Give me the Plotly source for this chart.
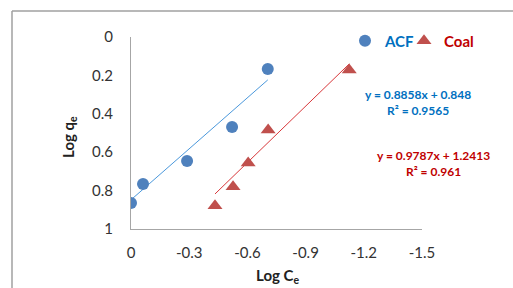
import plotly.graph_objects as go
import numpy as np

# Data
acf_x = [0.0, -0.062, -0.289, -0.521, -0.705]
acf_y = [0.865, 0.766, 0.646, 0.469, 0.167]
coal_x = [-0.433, -0.526, -0.604, -0.707, -1.125]
coal_y = [0.879, 0.780, 0.656, 0.484, 0.172]

acf_fit = (0.8858, 0.848, 0.9565)
coal_fit = (0.9787, 1.2413, 0.961)

x_ticks = [0, -0.3, -0.6, -0.9, -1.2, -1.5]
x_tick_labels = ["0", "-0.3", "-0.6", "-0.9", "-1.2", "-1.5"]
y_ticks = [0, 0.2, 0.4, 0.6, 0.8, 1]
y_tick_labels = ["0", "0.2", "0.4", "0.6", "0.8", "1"]

W, H = 513, 288
L, R, T, B = 131, 91, 37, 59
pw, ph = W - L - R, H - T - B

def px(x):
    return (x - L) / pw

def py(y):
    return 1 - (y - T) / ph

FONT = "Lato"
BLUE_M = "#4F81BD"
RED_M = "#C0504D"
BLUE_T = "#0070C0"
RED_T = "#C00000"

fig = go.Figure()

# trendlines
for xs, (m, c, _), col in [(acf_x, acf_fit, "#4A98DC"), (coal_x, coal_fit, "#D8373A")]:
    tx = np.array([max(xs), min(xs)])
    fig.add_trace(go.Scatter(x=tx, y=m * tx + c, mode="lines",
                             line=dict(color=col, width=1), showlegend=False,
                             hoverinfo="skip"))

fig.add_trace(go.Scatter(x=acf_x, y=acf_y, mode="markers",
                         name="<span style='color:%s'><b>ACF</b></span>" % BLUE_T,
                         legend="legend",
                         marker=dict(symbol="circle", size=12, color=BLUE_M)))
fig.add_trace(go.Scatter(x=coal_x, y=coal_y, mode="markers",
                         name="<span style='color:%s'><b>Coal</b></span>" % RED_T,
                         legend="legend2",
                         marker=dict(symbol="triangle-up", size=13, color=RED_M)))

leg_common = dict(orientation="h", xanchor="left", yanchor="middle",
                  font=dict(size=15, family=FONT), bgcolor="rgba(0,0,0,0)",
                  itemwidth=30)

fig.update_layout(
    width=W, height=H,
    margin=dict(l=L, r=R, t=T, b=B),
    paper_bgcolor="white", plot_bgcolor="white",
    font=dict(family=FONT, color="#333333", size=15),
    legend=dict(x=px(345), y=py(41), **leg_common),
    legend2=dict(x=px(404), y=py(41), **leg_common),
    xaxis=dict(range=[0, -1.5], tickvals=x_ticks, ticktext=x_tick_labels,
               showgrid=False, zeroline=False, showline=True, linecolor="#A6A6A6",
               linewidth=1, ticks="outside", ticklen=10, tickcolor="rgba(0,0,0,0)",
               tickfont=dict(size=15, color="#333333")),
    yaxis=dict(range=[1, 0], tickvals=y_ticks, ticktext=y_tick_labels,
               showgrid=False, zeroline=False, showline=True, linecolor="#A6A6A6",
               linewidth=1, ticks="outside", ticklen=14, tickcolor="rgba(0,0,0,0)",
               tickfont=dict(size=15, color="#333333")),
    showlegend=True,
)

# chart border (top & left visible)
fig.add_shape(type="line", xref="paper", yref="paper", x0=px(12), x1=px(513),
              y0=py(11), y1=py(11), line=dict(color="#A0A0A0", width=1.5))
fig.add_shape(type="line", xref="paper", yref="paper", x0=px(12), x1=px(12),
              y0=py(11), y1=py(288), line=dict(color="#A0A0A0", width=1.5))

# axis titles
fig.add_annotation(text="<b>Log C<sub>e</sub></b>", xref="paper", yref="paper",
                   x=px(277), y=py(276), showarrow=False,
                   xanchor="center", yanchor="middle",
                   font=dict(size=15, family=FONT, color="#222222"))
fig.add_annotation(text="<b>Log q<sub>e</sub></b>", xref="paper", yref="paper",
                   x=px(69), y=py(137), showarrow=False, textangle=-90,
                   xanchor="center", yanchor="middle",
                   font=dict(size=15, family=FONT, color="#222222"))

# equations
fig.add_annotation(text="<b>y = %.4fx + %.3f<br>R² = %.4f</b>" % acf_fit,
                   xref="paper", yref="paper", x=px(418), y=py(102), showarrow=False,
                   xanchor="center", yanchor="middle",
                   align="center", font=dict(size=12, family=FONT, color=BLUE_T))
fig.add_annotation(text="<b>y = %.4fx + %.4f<br>R² = %.3f</b>" % coal_fit,
                   xref="paper", yref="paper", x=px(433), y=py(163), showarrow=False,
                   xanchor="center", yanchor="middle",
                   align="center", font=dict(size=12, family=FONT, color=RED_T))

fig.write_html("out.html", config={"displayModeBar": False},
               post_script="document.body.style.margin='0';document.body.style.overflow='hidden';")
